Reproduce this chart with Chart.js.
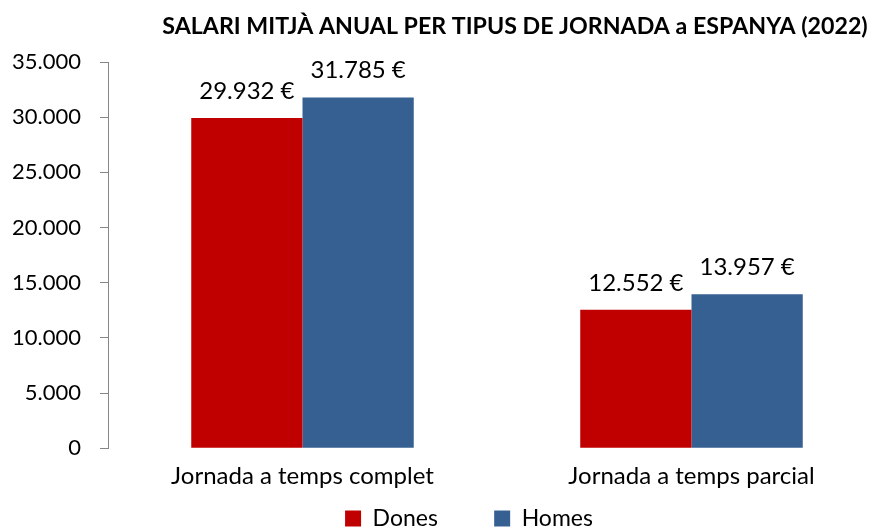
<!DOCTYPE html>
<html>
<head>
<meta charset="utf-8">
<script src="https://cdn.jsdelivr.net/npm/chart.js@4"></script>
<style>
  html, body { margin: 0; padding: 0; overflow: hidden; background: #fff; }
  #wrap { width: 886px; height: 540px; }
</style>
</head>
<body>
<div id="wrap"><canvas id="chart" width="886" height="540"></canvas></div>
<script>
// Dades llegides del gràfic original
const categories = ["Jornada a temps complet", "Jornada a temps parcial"];
const dones = [29932, 12552];
const homes = [31785, 13957];
const yTicks = [0, 5000, 10000, 15000, 20000, 25000, 30000, 35000];
const chartTitle = "SALARI MITJÀ ANUAL PER TIPUS DE JORNADA a ESPANYA (2022)";

Chart.defaults.font.family = "Lato";
Chart.defaults.color = "#000";

function thousands(v) {
    return String(v).replace(/\B(?=(\d{3})+(?!\d))/g, ".");
}

const titlePlugin = {
    id: "excelTitle",
    afterDraw(chart) {
        const ctx = chart.ctx;
        ctx.save();
        ctx.font = "bold 23.2px Lato";
        ctx.fillStyle = "#000";
        ctx.textAlign = "center";
        ctx.textBaseline = "alphabetic";
        ctx.fillText(chartTitle, 515, 34);
        ctx.restore();
    },
};

const valueLabels = {
    id: "valueLabels",
    afterDatasetsDraw(chart) {
        const ctx = chart.ctx;
        ctx.save();
        ctx.font = "24px Lato";
        ctx.fillStyle = "#000";
        ctx.textAlign = "center";
        ctx.textBaseline = "alphabetic";
        chart.data.datasets.forEach((ds, i) => {
            chart.getDatasetMeta(i).data.forEach((bar, j) => {
                ctx.fillText(thousands(ds.data[j]) + " €", bar.x, bar.y - 19);
            });
        });
        ctx.restore();
    },
};

// the legend in the original sits a bit right of centre
const legendShift = {
    id: "legendShift",
    afterLayout(chart) {
        chart.legend.left += 26;
        chart.legend.right += 26;
    },
};

new Chart(document.getElementById("chart"), {
    type: "bar",
    data: {
        labels: categories,
        datasets: [
            { label: "Dones", data: dones, backgroundColor: "#C00000" },
            { label: "Homes", data: homes, backgroundColor: "#376092" },
        ],
    },
    options: {
        responsive: false,
        animation: false,
        events: [],
        categoryPercentage: 0.572,
        barPercentage: 1.0,
        layout: { padding: { left: 0, top: 62, right: 0, bottom: 0 } },
        scales: {
            x: {
                grid: { display: false },
                border: { display: false },
                ticks: { font: { size: 24 }, padding: 6, maxRotation: 0 },
            },
            y: {
                min: 0,
                max: 35000,
                afterBuildTicks(scale) {
                    scale.ticks = yTicks.map(v => ({ value: v }));
                },
                afterFit(scale) {
                    scale.width = 108;
                },
                grid: { drawOnChartArea: false, color: "#868686", tickLength: 8 },
                border: { color: "#868686" },
                ticks: { font: { size: 22 }, padding: 19, callback: v => thousands(v) },
            },
        },
        plugins: {
            title: { display: false },
            tooltip: { enabled: false },
            legend: {
                position: "bottom",
                labels: {
                    boxWidth: 16,
                    boxHeight: 16,
                    padding: 10,
                    font: { size: 23 },
                    generateLabels(chart) {
                        const items = Chart.defaults.plugins.legend.labels.generateLabels(chart);
                        items[0].text += "\u2003\u2003  ";
                        return items;
                    },
                },
            },
        },
    },
    plugins: [titlePlugin, valueLabels, legendShift],
});
</script>
</body>
</html>
